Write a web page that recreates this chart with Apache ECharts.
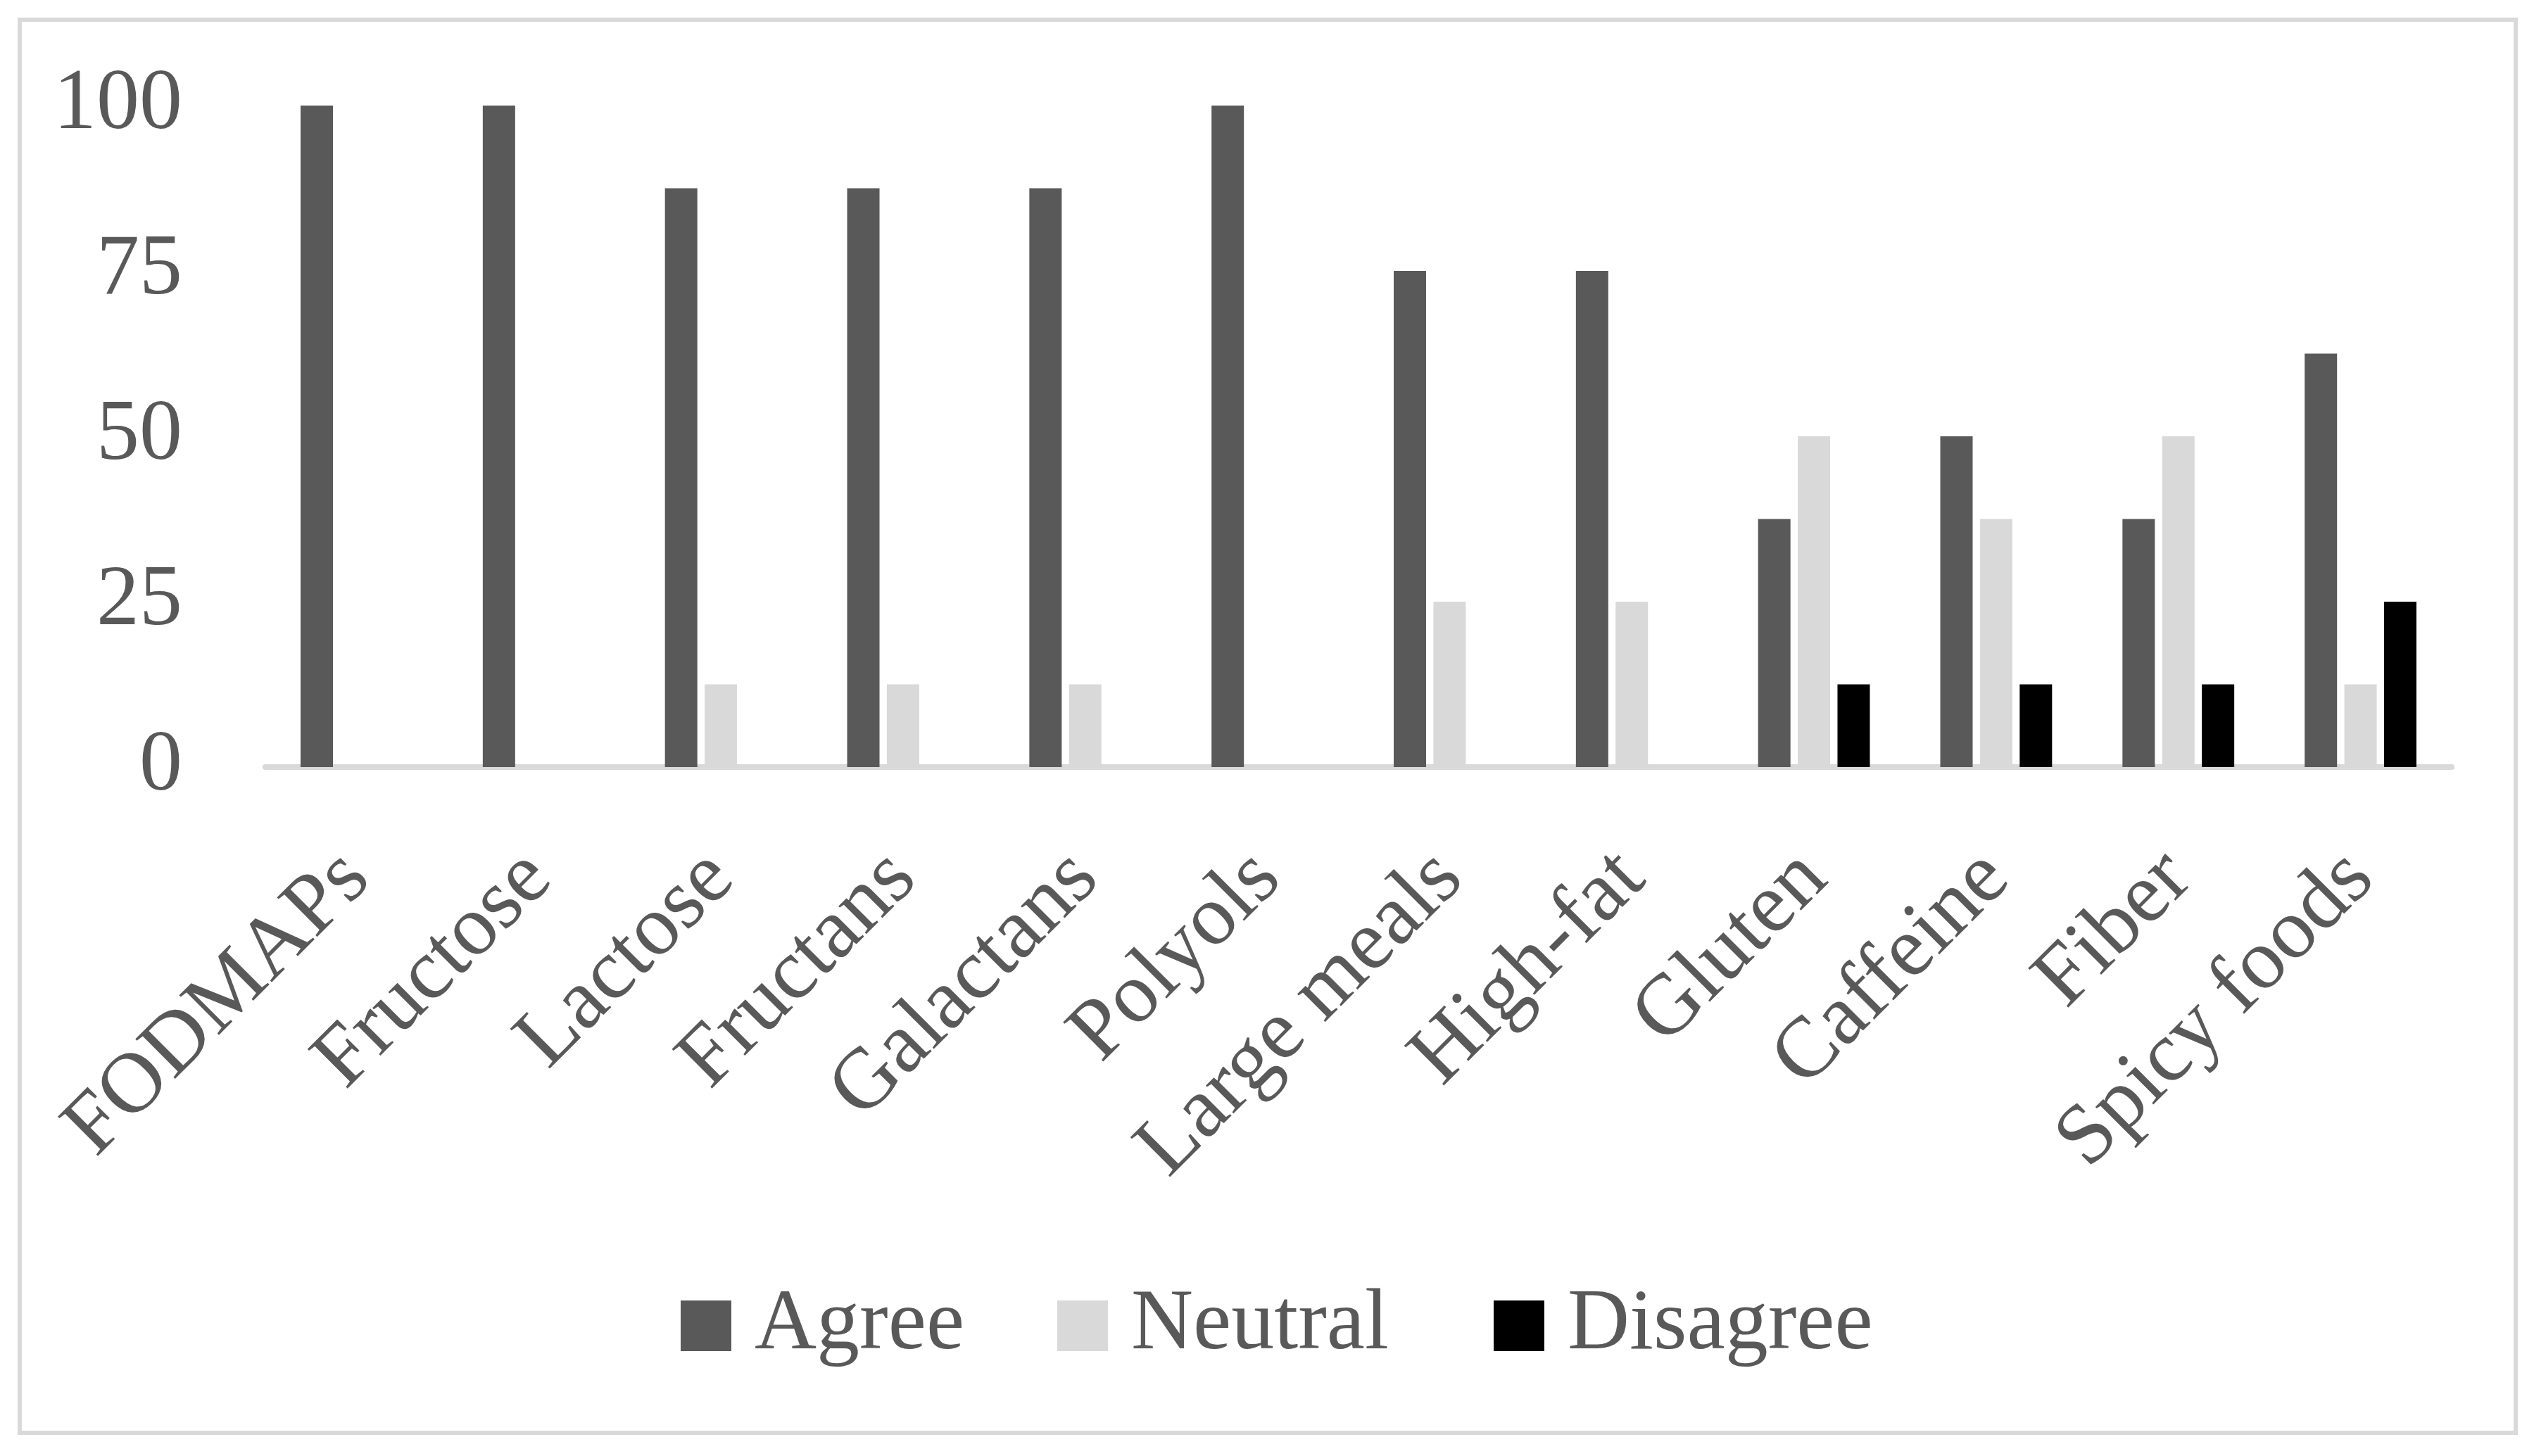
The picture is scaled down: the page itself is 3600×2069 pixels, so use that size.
<!DOCTYPE html>
<html lang="en">
<head>
    <meta charset="UTF-8">
    <title>Agreement by food trigger</title>
    <script src="https://cdn.jsdelivr.net/npm/echarts@6/dist/echarts.min.js"></script>
    <style>
        html, body { margin: 0; padding: 0; background: #fff; }
        #main { width: 3600px; height: 2069px; }
    </style>
</head>
<body>
    <div id="main"></div>
    <script>
        // values (percent of respondents)
        var categories = ['FODMAPs', 'Fructose', 'Lactose', 'Fructans', 'Galactans', 'Polyols',
            'Large meals', 'High-fat', 'Gluten', 'Caffeine', 'Fiber', 'Spicy foods'];
        var agree    = [100, 100, 87.5, 87.5, 87.5, 100, 75, 75, 37.5, 50, 37.5, 62.5];
        var neutral  = [0, 0, 12.5, 12.5, 12.5, 0, 25, 25, 50, 37.5, 50, 12.5];
        var disagree = [0, 0, 0, 0, 0, 0, 0, 0, 12.5, 12.5, 12.5, 25];
        var yTicks = [0, 25, 50, 75, 100];

        var font = '"Liberation Serif", "DejaVu Serif", serif';
        var textColor = '#595959';

        var chart = echarts.init(document.getElementById('main'));

        function legendAt(name, left) {
            return {
                data: [name],
                left: left,
                top: 1823,
                padding: 0,
                icon: 'rect',
                itemWidth: 72,
                itemHeight: 72,
                selectedMode: false,
                textStyle: {
                    color: textColor,
                    fontFamily: font,
                    fontSize: 122,
                    padding: [0, 0, 0, 28]
                }
            };
        }

        chart.setOption({
            animation: false,
            backgroundColor: '#fff',
            graphic: [{
                type: 'rect',
                shape: { x: 28, y: 28, width: 3546, height: 2008 },
                style: { fill: 'none', stroke: '#D9D9D9', lineWidth: 6 },
                silent: true
            }],
            legend: [
                legendAt('Agree', 967),
                legendAt('Neutral', 1502),
                legendAt('Disagree', 2122)
            ],
            grid: { left: 377, right: 117, top: 150, bottom: 979, containLabel: false },
            xAxis: {
                type: 'category',
                data: categories,
                axisLine: { lineStyle: { color: '#D9D9D9', width: 8 } },
                axisTick: { show: false },
                axisLabel: {
                    rotate: 45,
                    interval: 0,
                    margin: 140,
                    color: textColor,
                    fontFamily: font,
                    fontSize: 122
                }
            },
            yAxis: {
                type: 'value',
                min: yTicks[0],
                max: yTicks[yTicks.length - 1],
                interval: 25,
                axisLine: { show: false },
                axisTick: { show: false },
                splitLine: { show: false },
                axisLabel: {
                    margin: 118,
                    color: textColor,
                    fontFamily: font,
                    fontSize: 122
                }
            },
            series: [
                { name: 'Agree', type: 'bar', data: agree, barWidth: 46, barGap: '22.6%',
                  itemStyle: { color: '#595959' } },
                { name: 'Neutral', type: 'bar', data: neutral, barWidth: 46, barGap: '22.6%',
                  itemStyle: { color: '#D9D9D9' } },
                { name: 'Disagree', type: 'bar', data: disagree, barWidth: 46, barGap: '22.6%',
                  itemStyle: { color: '#000000' } }
            ]
        });
    </script>
</body>
</html>
